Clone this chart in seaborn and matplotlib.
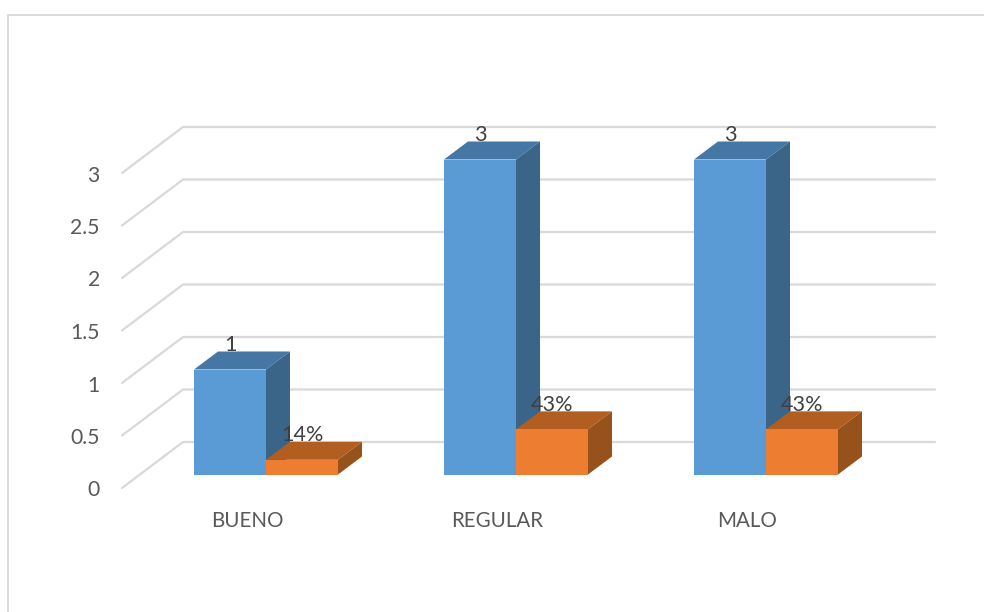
import matplotlib
matplotlib.use("Agg")
import matplotlib.pyplot as plt
import pandas as pd
import seaborn as sns
from matplotlib.lines import Line2D
from matplotlib.patches import Polygon

categories = ["BUENO", "REGULAR", "MALO"]
cantidad = [1, 3, 3]
porcentaje = [0.14, 0.43, 0.43]
cantidad_labels = ["1", "3", "3"]
porcentaje_labels = ["14%", "43%", "43%"]
y_ticks = [0, 0.5, 1, 1.5, 2, 2.5, 3]
y_tick_labels = ["0", "0.5", "1", "1.5", "2", "2.5", "3"]

W, H = 984, 612
sns.set_theme(style="white")
plt.rcParams["font.family"] = ["Lato", "DejaVu Sans"]

df = pd.DataFrame({
    "cat": categories * 2,
    "val": cantidad + porcentaje,
    "serie": ["Cantidad"] * 3 + ["Porcentaje"] * 3,
})

fig = plt.figure(figsize=(W / 100, H / 100), dpi=100, facecolor="white")
L, R, T, B = 104, 940, 100, 505
ax = fig.add_axes([L / W, 1 - B / H, (R - L) / W, (B - T) / H])
ax.patch.set_alpha(0)

PX_X, PX_Y, X0, Y0 = 250.0, 105.0, 266.0, 474.5
sns.barplot(data=df, x="cat", y="val", hue="serie", order=categories,
            palette=["#5B9BD5", "#ED7D31"], width=0.576, gap=0, dodge=True,
            legend=False, saturation=1, ax=ax, linewidth=0, zorder=3)

ax.set_xlim((L - X0) / PX_X, (R - X0) / PX_X)
ax.set_ylim((Y0 - B) / PX_Y, (Y0 - T) / PX_Y)

# back wall and floor guides
gx = lambda p: (p - X0) / PX_X
gy = lambda p: (Y0 - p) / PX_Y
wall_back = gy(442)
for v in y_ticks:
    yb = v + wall_back
    ax.plot([gx(122), gx(183), gx(935)], [v + gy(488), yb, yb],
            color="#D9D9D9", lw=1.6, zorder=1, solid_joinstyle="miter")

# 3-D depth of each bar
dx, dy = 24 / PX_X, 18 / PX_Y
shades = [("#4676A3", "#3A6488"), ("#B35E21", "#97521C")]
for i, (cont, (top_c, side_c)) in enumerate(zip(ax.containers, shades)):
    z = 2 + 2 * i
    for bar in cont:
        bar.set_zorder(z + 1)
        x0, x1 = bar.get_x(), bar.get_x() + bar.get_width()
        h = bar.get_height()
        ax.add_patch(Polygon([(x0, h), (x1, h), (x1 + dx, h + dy), (x0 + dx, h + dy)],
                             closed=True, fc=top_c, ec="none", zorder=z))
        ax.add_patch(Polygon([(x1, 0), (x1 + dx, dy), (x1 + dx, h + dy), (x1, h)],
                             closed=True, fc=side_c, ec="none", zorder=z))

# data labels
for cont, labels in zip(ax.containers, [cantidad_labels, porcentaje_labels]):
    for bar, s in zip(cont, labels):
        ax.annotate(s, (bar.get_x() + bar.get_width() / 2, bar.get_height()),
                    xytext=(0, 24.5 * 0.72), textcoords="offset points",
                    ha="center", va="center", fontsize=15.6, color="#404040", zorder=8)

ax.set_yticks([v + gy(488.5) for v in y_ticks], y_tick_labels)
ax.set_xticks([i + gx(247) for i in range(len(categories))], categories)
ax.tick_params(axis="y", length=0, labelsize=15.2, labelcolor="#595959", pad=3)
ax.tick_params(axis="x", length=0, labelsize=14.8, labelcolor="#595959", pad=4)
ax.set_xlabel("")
ax.set_ylabel("")
ax.grid(False)
sns.despine(ax=ax, left=True, bottom=True)

# chart-area border
fx = lambda p: p / W
fy = lambda p: 1 - p / H
fig.add_artist(Line2D([fx(8), fx(8), fx(984)], [fy(612), fy(15), fy(15)],
                      color="#D9D9D9", lw=1.4))

fig.savefig("out.png", dpi=100, facecolor="white")
